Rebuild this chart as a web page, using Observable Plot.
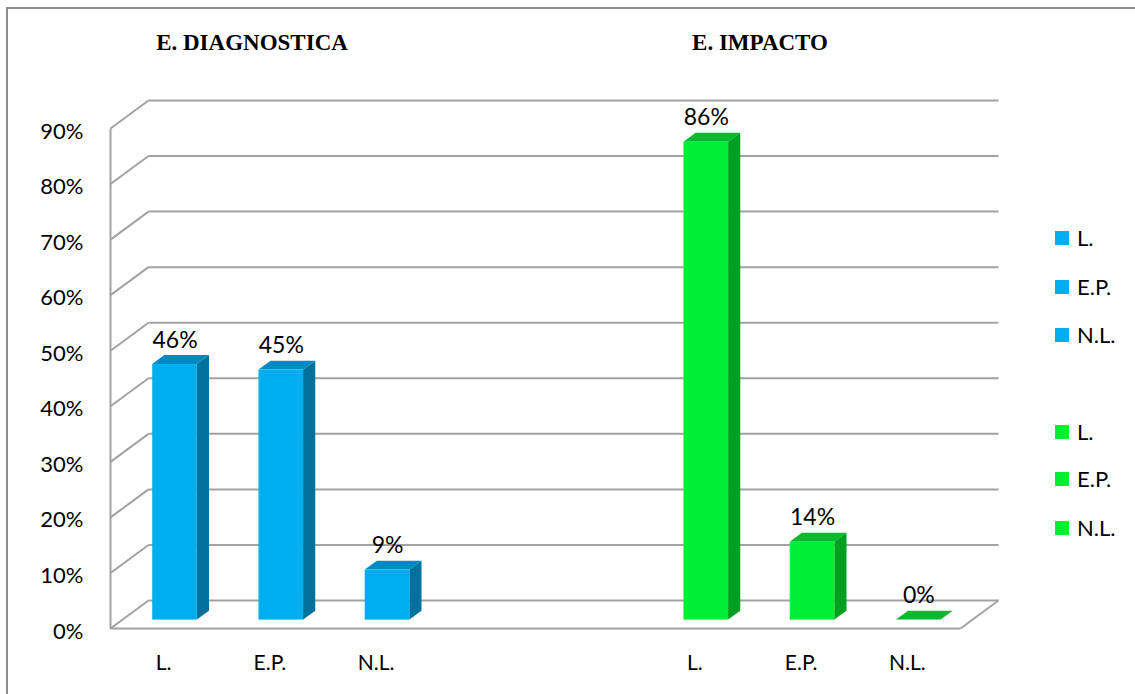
<!DOCTYPE html>
<html>
<head>
<meta charset="utf-8">
<script src="https://cdn.jsdelivr.net/npm/d3@7"></script>
<script src="https://cdn.jsdelivr.net/npm/@observablehq/plot@0.6"></script>
<style>
  html, body { margin: 0; padding: 0; background: #fff; overflow: hidden; }
  #wrap { position: relative; width: 1135px; height: 694px; font-family: Lato, "Open Sans", sans-serif; }
  #wrap svg { position: absolute; left: 0; top: 0; }
  #frame { position: absolute; left: 6px; top: 7px; width: 1300px; height: 900px;
           border-left: 2px solid #8e8e8e; border-top: 2px solid #8e8e8e; pointer-events: none; }
  .title { position: absolute; top: 31px; transform: translateX(-50%); white-space: nowrap; color: #000;
           font: bold 23px/23px "Liberation Serif", "Times New Roman", serif; }
  .leg { position: absolute; left: 1055px; height: 22px; font-size: 22px; line-height: 22px; color: #000; }
  .leg .sw { position: absolute; left: 0; top: 4px; width: 14px; height: 14px; }
  .leg .tx { position: absolute; left: 22px; top: 0; white-space: nowrap; }
</style>
</head>
<body>
<div id="wrap"></div>
<script>
// ---- data -------------------------------------------------------------
const categories = ["L.", "E.P.", "N.L."];
const groups = ["E. DIAGNOSTICA", "E. IMPACTO"];
const diagnostica = [46, 45, 9];
const impacto = [86, 14, 0];
const yTicks = [0, 10, 20, 30, 40, 50, 60, 70, 80, 90];

// ---- layout of the pseudo-3D column chart -----------------------------
const slotsPerGroup = 5;                 // 3 columns + 2 empty slots between groups
const nSlots = slotsPerGroup + categories.length;
const DX = 0.3576, DY = 5.04;            // oblique offset of the back wall (slot units, percent units)
const F0 = 0.3, F1 = 0.62;               // depth of a column's front and back faces
const BW = 0.42;                         // column width in slots
const yMax = yTicks[yTicks.length - 1];
const palette = [
  {front: "#00AEEF", side: "#00719C", top: "#0089C4"},
  {front: "#00EE33", side: "#009F22", top: "#00BC2C"}
];
const grid = "#a2a2a2";

const series = [diagnostica, impacto];
const rows = groups.flatMap((g, gi) => categories.map((c, ci) => {
  const slot = gi * slotsPerGroup + ci;
  return {id: gi + "-" + ci, gi, cat: c, value: series[gi][ci],
          left: slot + 0.5 - BW / 2, right: slot + 0.5 + BW / 2, mid: slot + 0.5};
}));

const sidePts = rows.flatMap(d => [F0, F1].map(f => ({
  id: d.id, x: d.right + f * DX, y1: f * DY, y2: d.value + f * DY, fill: palette[d.gi].side
})));
const topPts = rows.flatMap(d => [F0, F1].map(f => ({
  id: d.id, y: d.value + f * DY, x1: d.left + f * DX, x2: d.right + f * DX, fill: palette[d.gi].top
})));

// wall and floor edges, as segments in (slot, percent) space
const wallBack = yTicks.map(v => ({x1: DX, x2: nSlots + DX, y1: v + DY, y2: v + DY}));
const wallSide = yTicks.map(v => ({x1: 0, x2: DX, y1: v, y2: v + DY}));
const edges = [
  {x1: 0, x2: 0, y1: 0, y2: yMax},
  {x1: 0, x2: nSlots, y1: 0, y2: 0},
  {x1: nSlots, x2: nSlots + DX, y1: 0, y2: DY}
];
const seg = {x1: d => d.x1, y1: d => d.y1, x2: d => d.x2, y2: d => d.y2, stroke: grid, strokeWidth: 2};

const tickSlots = rows.map(d => d.mid);
const tickName = new Map(rows.map(d => [d.mid, d.cat]));

const chart = Plot.plot({
  width: 1135,
  height: 694,
  marginLeft: 110,
  marginRight: 137,
  marginTop: 100,
  marginBottom: 66,
  style: {background: "transparent", fontFamily: "Lato, 'Open Sans', sans-serif", color: "#000"},
  x: {domain: [0, nSlots + DX]},
  y: {domain: [0, yMax + DY]},
  color: {type: "identity"},
  marks: [
    Plot.link(wallBack, seg),
    Plot.link(wallSide, seg),
    Plot.link(edges, seg),
    // columns: side, top, front faces
    Plot.areaY(sidePts, {x: "x", y1: "y1", y2: "y2", z: "id", fill: "fill"}),
    Plot.areaX(topPts, {y: "y", x1: "x1", x2: "x2", z: "id", fill: "fill"}),
    Plot.rect(rows, {
      x1: d => d.left + F0 * DX, x2: d => d.right + F0 * DX,
      y1: () => F0 * DY, y2: d => d.value + F0 * DY,
      fill: d => palette[d.gi].front
    }),
    // value labels
    Plot.text(rows, {
      x: d => d.mid + F0 * DX, y: d => d.value + F1 * DY, text: d => d.value + "%",
      dy: -8, lineAnchor: "bottom", fontSize: 23, fill: "#000"
    }),
    // axes
    Plot.axisY({ticks: yTicks, tickFormat: d => d + "%", tickSize: 0, tickPadding: 27,
                fontSize: 22, dy: 3, label: null}),
    Plot.axisX({ticks: tickSlots, tickFormat: d => tickName.get(d), tickSize: 0, tickPadding: 27,
                fontSize: 21, label: null})
  ]
});

const wrap = document.getElementById("wrap");
wrap.appendChild(chart);

// group titles
const titleX = [252, 760];
groups.forEach((g, i) => {
  const t = document.createElement("div");
  t.className = "title";
  t.style.left = titleX[i] + "px";
  t.textContent = g;
  wrap.appendChild(t);
});

// legend
const legendTop = [227, 276, 324, 421, 468, 517];
let k = 0;
groups.forEach((g, gi) => categories.forEach(c => {
  const row = document.createElement("div");
  row.className = "leg";
  row.style.top = legendTop[k++] + "px";
  const sw = document.createElement("span");
  sw.className = "sw";
  sw.style.background = palette[gi].front;
  const tx = document.createElement("span");
  tx.className = "tx";
  tx.textContent = c;
  row.append(sw, tx);
  wrap.appendChild(row);
}));

const frame = document.createElement("div");
frame.id = "frame";
wrap.appendChild(frame);
</script>
</body>
</html>
